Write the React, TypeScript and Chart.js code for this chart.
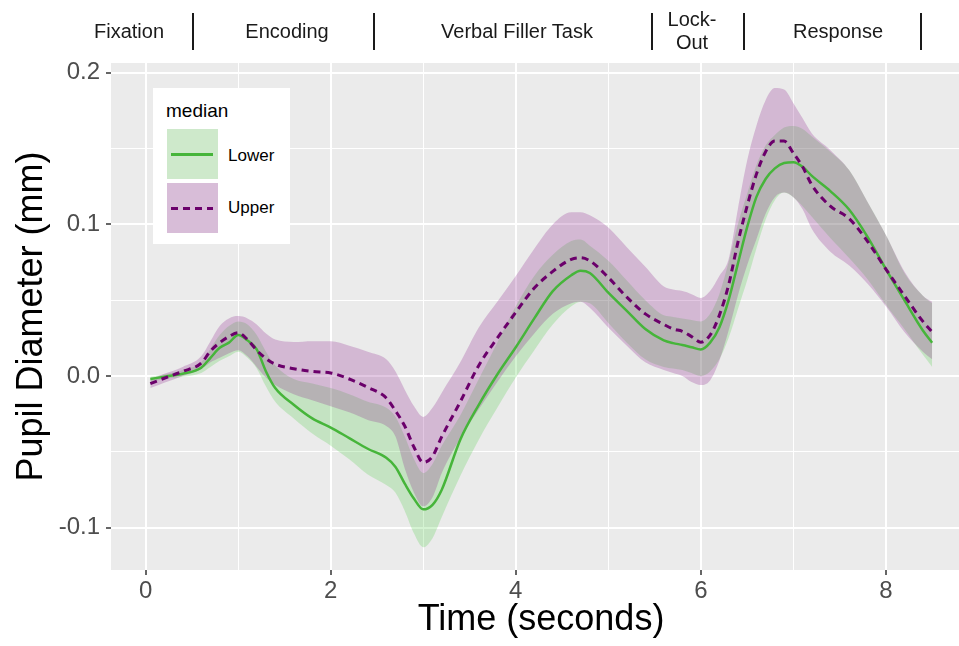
import React, { useEffect, useRef } from "react";
import { Chart, registerables } from "chart.js";

Chart.register(...registerables);

// ---------- data ----------
const time = [0.05, 0.2, 0.4, 0.6, 0.7, 0.8, 0.9, 1.0, 1.1, 1.2, 1.3, 1.4, 1.6, 1.8, 2.0, 2.2, 2.4, 2.6, 2.7, 2.8, 2.9, 3.0, 3.1, 3.2, 3.4, 3.6, 3.8, 4.0, 4.2, 4.4, 4.6, 4.7, 4.8, 5.0, 5.2, 5.4, 5.6, 5.7, 5.8, 5.9, 6.0, 6.1, 6.2, 6.3, 6.4, 6.5, 6.6, 6.7, 6.8, 6.9, 7.0, 7.1, 7.2, 7.4, 7.6, 7.8, 8.0, 8.2, 8.4, 8.5];

const lowerMedian = [-0.002, -0.0005, 0.0015, 0.0055, 0.012, 0.0186, 0.022, 0.027, 0.0235, 0.0175, 0.003, -0.008, -0.019, -0.028, -0.034, -0.041, -0.048, -0.054, -0.06, -0.071, -0.081, -0.088, -0.085, -0.075, -0.042, -0.019, 0.001, 0.019, 0.038, 0.056, 0.0665, 0.0695, 0.068, 0.055, 0.043, 0.031, 0.0235, 0.0217, 0.0205, 0.019, 0.0175, 0.022, 0.032, 0.05, 0.074, 0.098, 0.118, 0.13, 0.137, 0.1405, 0.141, 0.138, 0.132, 0.122, 0.11, 0.092, 0.0705, 0.05, 0.03, 0.022];
const lowerLow = [-0.004, -0.002, -0.0005, 0.002, 0.006, 0.01, 0.013, 0.016, 0.012, 0.005, -0.007, -0.017, -0.028, -0.038, -0.046, -0.055, -0.065, -0.072, -0.077, -0.089, -0.104, -0.113, -0.107, -0.093, -0.066, -0.042, -0.021, -0.001, 0.017, 0.034, 0.046, 0.049, 0.048, 0.035, 0.022, 0.011, 0.006, 0.005, 0.004, 0.002, 0.0, 0.003, 0.011, 0.025, 0.044, 0.063, 0.084, 0.103, 0.116, 0.121, 0.118, 0.112, 0.105, 0.091, 0.078, 0.064, 0.047, 0.031, 0.014, 0.006];
const lowerHigh = [-0.0005, 0.001, 0.004, 0.009, 0.018, 0.027, 0.033, 0.036, 0.034, 0.027, 0.016, 0.007, -0.002, -0.005, -0.008, -0.012, -0.017, -0.021, -0.027, -0.04, -0.055, -0.064, -0.058, -0.046, -0.026, -0.002, 0.022, 0.046, 0.066, 0.08, 0.089, 0.09, 0.086, 0.076, 0.063, 0.05, 0.04, 0.039, 0.038, 0.037, 0.036, 0.041, 0.054, 0.075, 0.1, 0.12, 0.139, 0.152, 0.159, 0.164, 0.165, 0.163, 0.158, 0.148, 0.136, 0.115, 0.093, 0.068, 0.053, 0.048];

const upperMedian = [-0.005, -0.0015, 0.003, 0.0085, 0.0165, 0.022, 0.026, 0.0285, 0.024, 0.017, 0.0115, 0.0078, 0.0048, 0.003, 0.002, -0.002, -0.0075, -0.0145, -0.023, -0.033, -0.047, -0.057, -0.053, -0.04, -0.017, 0.007, 0.025, 0.042, 0.058, 0.069, 0.077, 0.078, 0.076, 0.065, 0.052, 0.041, 0.034, 0.031, 0.0295, 0.026, 0.0223, 0.027, 0.04, 0.06, 0.088, 0.112, 0.133, 0.148, 0.155, 0.155, 0.147, 0.138, 0.126, 0.112, 0.104, 0.089, 0.0705, 0.053, 0.036, 0.029];
const upperLow = [-0.008, -0.0045, 0.0, 0.0045, 0.009, 0.012, 0.015, 0.017, 0.013, 0.006, -0.001, -0.006, -0.012, -0.016, -0.02, -0.024, -0.029, -0.033, -0.04, -0.061, -0.077, -0.086, -0.08, -0.064, -0.041, -0.022, -0.004, 0.013, 0.028, 0.041, 0.048, 0.049, 0.045, 0.032, 0.02, 0.009, 0.004, 0.002, 0.0, -0.004, -0.006, -0.003, 0.01, 0.03, 0.053, 0.073, 0.09, 0.107, 0.118, 0.121, 0.118, 0.11, 0.097, 0.082, 0.073, 0.061, 0.046, 0.029, 0.016, 0.011];
const upperHigh = [-0.002, 0.0015, 0.006, 0.013, 0.023, 0.033, 0.038, 0.0395, 0.038, 0.034, 0.028, 0.024, 0.0225, 0.023, 0.023, 0.02, 0.016, 0.011, 0.003, -0.009, -0.02, -0.027, -0.021, -0.011, 0.009, 0.032, 0.049, 0.066, 0.084, 0.1, 0.108, 0.108, 0.106, 0.098, 0.085, 0.072, 0.059, 0.057, 0.056, 0.054, 0.0515, 0.056, 0.066, 0.077, 0.11, 0.142, 0.165, 0.182, 0.19, 0.189, 0.18, 0.17, 0.16, 0.149, 0.136, 0.115, 0.093, 0.069, 0.053, 0.049];

const xTickValues = [0, 2, 4, 6, 8];
const xTickLabels = ["0", "2", "4", "6", "8"];
const yTickValues = [-0.1, 0.0, 0.1, 0.2];
const yTickLabels = ["-0.1", "0.0", "0.1", "0.2"];

const seriesNames = ["Lower", "Upper"];
const legendTitle = "median";
const phaseLabels = ["Fixation", "Encoding", "Verbal Filler Task", "Lock-\nOut", "Response"];

// ---------- layout / style ----------
const FONT = '"Liberation Sans", Arial, Helvetica, sans-serif';
const GREEN_LINE = "#46b53a";
const PURPLE_LINE = "#6b006b";
const GREEN_FILL = "rgba(60,200,50,0.22)";
const PURPLE_FILL = "rgba(140,30,140,0.25)";
const phaseCenters = [129, 287, 517, 692, 838];
const separatorX = [192, 373, 651, 743, 920];

const pts = (ys: number[]) => time.map((t, i) => ({ x: t, y: ys[i] }));
const findLabel = (v: number, vals: number[], labels: string[]) => {
  const i = vals.findIndex((a) => Math.abs(a - v) < 1e-6);
  return i >= 0 ? labels[i] : "";
};
const isMajorX = (v: number) => xTickValues.some((a) => Math.abs(a - v) < 1e-6);
const isMajorY = (v: number) => yTickValues.some((a) => Math.abs(a - v) < 1e-6);

const panelBg = {
  id: "panelBg",
  beforeDraw(chart: any) {
    const { ctx, chartArea: a } = chart;
    ctx.save();
    ctx.fillStyle = "#EBEBEB";
    ctx.fillRect(a.left, a.top, a.right - a.left, a.bottom - a.top);
    ctx.restore();
  },
};

export default function App() {
  const ref = useRef<HTMLCanvasElement | null>(null);

  useEffect(() => {
    if (!ref.current) return;
    const band = {
      borderColor: "rgba(0,0,0,0)",
      borderWidth: 0,
      pointRadius: 0,
      cubicInterpolationMode: "monotone" as const,
    };
    const chart = new Chart(ref.current, {
      type: "line",
      data: {
        datasets: [
          { ...band, label: "lowerLow", data: pts(lowerLow), fill: false, order: 4 },
          { ...band, label: "lowerHigh", data: pts(lowerHigh), fill: 0, backgroundColor: GREEN_FILL, order: 4 },
          { ...band, label: "upperLow", data: pts(upperLow), fill: false, order: 3 },
          { ...band, label: "upperHigh", data: pts(upperHigh), fill: 2, backgroundColor: PURPLE_FILL, order: 3 },
          {
            label: seriesNames[0],
            data: pts(lowerMedian),
            borderColor: GREEN_LINE,
            borderWidth: 2.5,
            pointRadius: 0,
            fill: false,
            cubicInterpolationMode: "monotone",
            order: 2,
          },
          {
            label: seriesNames[1],
            data: pts(upperMedian),
            borderColor: PURPLE_LINE,
            borderWidth: 3,
            borderDash: [7, 5],
            pointRadius: 0,
            fill: false,
            cubicInterpolationMode: "monotone",
            order: 1,
          },
        ] as any,
      },
      options: {
        animation: false,
        responsive: false,
        maintainAspectRatio: false,
        devicePixelRatio: 1,
        layout: { padding: { top: 63, right: 4, left: 0, bottom: 0 } },
        plugins: {
          legend: { display: false },
          tooltip: { enabled: false },
          title: { display: false },
        },
        scales: {
          x: {
            type: "linear",
            min: -0.375,
            max: 8.92,
            afterFit: (s: any) => {
              s.height = 76;
            },
            border: { display: false },
            grid: {
              color: "#FFFFFF",
              lineWidth: (c: any) => (c.tick && isMajorX(c.tick.value) ? 2 : 1),
              tickLength: 5,
              tickColor: (c: any) => (c.tick && isMajorX(c.tick.value) ? "#333333" : "rgba(0,0,0,0)"),
              tickWidth: 1.5,
            },
            ticks: {
              stepSize: 1,
              includeBounds: false,
              autoSkip: false,
              maxRotation: 0,
              padding: 2,
              color: "#4D4D4D",
              font: { family: FONT, size: 24 },
              callback: (v: any) => findLabel(Number(v), xTickValues, xTickLabels),
            },
            title: {
              display: true,
              text: "Time (seconds)",
              color: "#000000",
              font: { family: FONT, size: 36 },
              padding: { top: 0, bottom: 4 },
            },
          },
          y: {
            type: "linear",
            min: -0.128,
            max: 0.2065,
            afterFit: (s: any) => {
              s.width = 111;
            },
            border: { display: false },
            grid: {
              color: "#FFFFFF",
              lineWidth: (c: any) => (c.tick && isMajorY(c.tick.value) ? 2 : 1),
              tickLength: 5,
              tickColor: (c: any) => (c.tick && isMajorY(c.tick.value) ? "#333333" : "rgba(0,0,0,0)"),
              tickWidth: 1.5,
            },
            ticks: {
              stepSize: 0.05,
              includeBounds: false,
              autoSkip: false,
              padding: 6,
              color: "#4D4D4D",
              font: { family: FONT, size: 24 },
              callback: (v: any) => findLabel(Number(v), yTickValues, yTickLabels),
            },
            title: {
              display: true,
              text: "Pupil Diameter (mm)",
              color: "#000000",
              font: { family: FONT, size: 36 },
              padding: { top: 10, bottom: 0 },
            },
          },
        },
      } as any,
      plugins: [panelBg],
    });
    return () => chart.destroy();
  }, []);

  return (
    <div
      style={{
        position: "fixed",
        left: 0,
        top: 0,
        width: 959,
        height: 646,
        overflow: "hidden",
        background: "#FFFFFF",
        fontFamily: FONT,
      }}
    >
      <canvas
        ref={ref}
        width={975}
        height={646}
        style={{ position: "absolute", left: 0, top: 0, width: 975, height: 646 }}
      />
      {phaseLabels.map((p, i) => (
        <div
          key={p}
          style={{
            position: "absolute",
            left: phaseCenters[i],
            top: 31,
            transform: "translate(-50%, -50%)",
            fontSize: 20,
            lineHeight: "23px",
            color: "#1a1a1a",
            whiteSpace: "pre",
            textAlign: "center",
          }}
        >
          {p}
        </div>
      ))}
      {separatorX.map((x) => (
        <div
          key={x}
          style={{ position: "absolute", left: x, top: 13, width: 1.6, height: 37, background: "#1a1a1a" }}
        />
      ))}
      <div
        style={{
          position: "absolute",
          left: 153,
          top: 88,
          width: 137,
          height: 156,
          background: "#FFFFFF",
        }}
      >
        <div
          style={{
            position: "absolute",
            left: 13,
            top: 23,
            transform: "translateY(-50%)",
            fontSize: 19,
            color: "#000",
          }}
        >
          {legendTitle}
        </div>
        {[0, 1].map((k) => (
          <React.Fragment key={k}>
            <div
              style={{
                position: "absolute",
                left: 14,
                top: k === 0 ? 41 : 95,
                width: 51,
                height: 50,
                background: k === 0 ? "rgb(206,233,203)" : "rgb(216,189,216)",
              }}
            >
              <div
                style={{
                  position: "absolute",
                  left: 4,
                  top: 24,
                  width: 42,
                  height: k === 0 ? 2.5 : 3,
                  background:
                    k === 0
                      ? GREEN_LINE
                      : `repeating-linear-gradient(to right, ${PURPLE_LINE} 0px, ${PURPLE_LINE} 7px, transparent 7px, transparent 12px)`,
                }}
              />
            </div>
            <div
              style={{
                position: "absolute",
                left: 75,
                top: k === 0 ? 68 : 120,
                transform: "translateY(-50%)",
                fontSize: 17,
                color: "#000",
              }}
            >
              {seriesNames[k]}
            </div>
          </React.Fragment>
        ))}
      </div>
    </div>
  );
}
